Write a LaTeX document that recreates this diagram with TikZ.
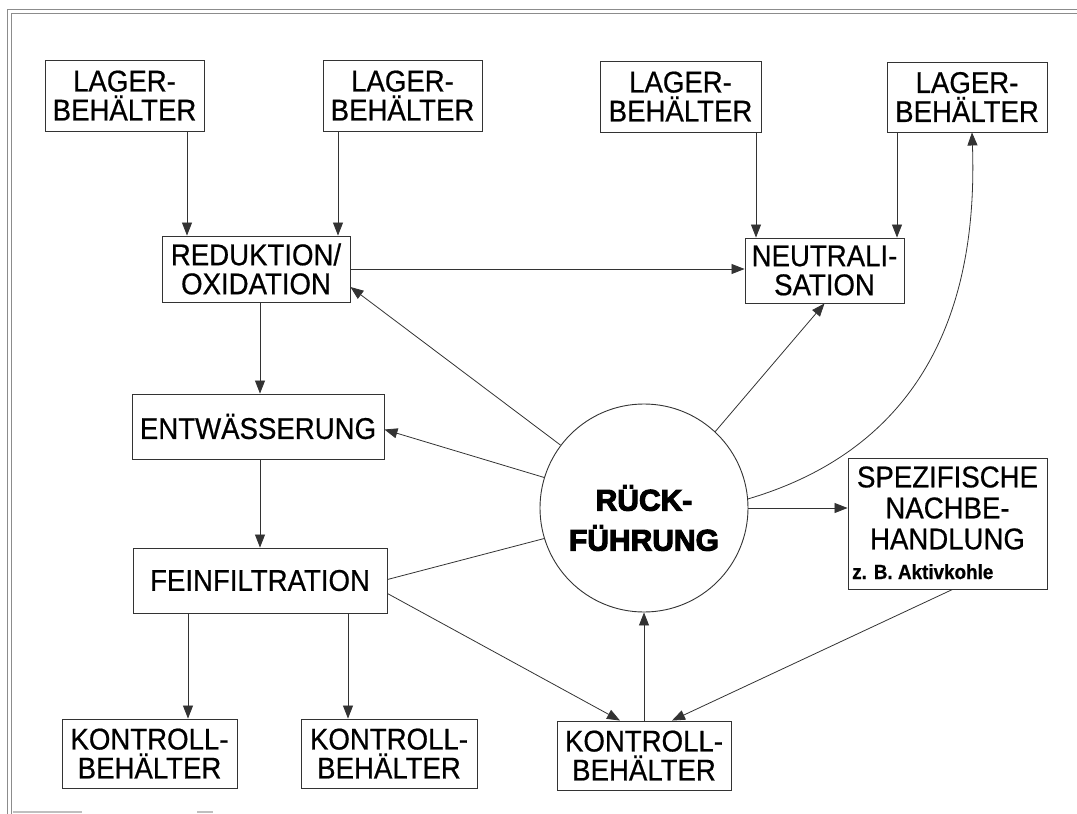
\documentclass[tikz,border=0pt]{standalone}
\usepackage{fontspec}
\setmainfont{Liberation Sans}[FakeStretch=0.92, FakeBold=0.6]
\newfontfamily\heavyfont{Liberation Sans}[BoldFeatures={FakeBold=3.5}]
\usetikzlibrary{arrows.meta}

\tikzset{
  box/.style={draw=black!80, line width=0.9pt, align=center, inner sep=0pt,
    font=\fontsize{30}{29}\selectfont, text=black},
  conn/.style={draw=black!80, line width=0.8pt},
  arr/.style={conn, -{Triangle[length=13pt,width=10pt]}},
  frame/.style={draw=black!45, line width=0.8pt},
  hub/.style={circle, draw=black!80, line width=0.9pt, minimum size=208pt,
    inner sep=0pt, align=center, text=black},
}

\begin{document}
\begin{tikzpicture}[x=1pt,y=-1pt]
\useasboundingbox (0,0) rectangle (1077,814);

% page frame
\draw[frame] (7,9) -- (1077,9);
\draw[frame] (11,13) -- (1077,13);
\draw[frame] (7,9) -- (7,814);
\draw[frame] (11,13) -- (11,814);
\draw[draw=black!25, line width=1.5pt] (13,812) -- (82,812);
\draw[draw=black!25, line width=1.5pt] (197,812) -- (213,812);

% storage tanks
\node[box, minimum width=159pt, minimum height=71pt] (lb1) at (124.5,95.5) {LAGER-\\BEHÄLTER};
\node[box, minimum width=159pt, minimum height=71pt] (lb2) at (402.5,95.5) {LAGER-\\BEHÄLTER};
\node[box, minimum width=161pt, minimum height=71pt] (lb3) at (680.5,96.5) {LAGER-\\BEHÄLTER};
\node[box, minimum width=160pt, minimum height=70pt] (lb4) at (967,97) {LAGER-\\BEHÄLTER};

% treatment stages
\node[box, minimum width=188pt, minimum height=66pt] (red) at (256,269) {REDUKTION/\\OXIDATION};
\node[box, minimum width=159pt, minimum height=65pt] (neut) at (824.5,270.5) {NEUTRALI-\\SATION};
\node[box, minimum width=252pt, minimum height=65pt] (entw) at (258,426.5) {ENTWÄSSERUNG};
\node[box, minimum width=254pt, minimum height=65pt] (fein) at (260,580.5) {FEINFILTRATION};

% control tanks
\node[box, minimum width=175pt, minimum height=69pt] (k1) at (149.5,753.5) {KONTROLL-\\BEHÄLTER};
\node[box, minimum width=176pt, minimum height=69pt] (k2) at (389,753.5) {KONTROLL-\\BEHÄLTER};
\node[box, minimum width=174pt, minimum height=69pt] (k3) at (644,755.5) {KONTROLL-\\BEHÄLTER};

% special after-treatment
\node[box, minimum width=199pt, minimum height=131pt] (spez) at (947.5,523.5) {};
\node[inner sep=0pt, align=center, font=\fontsize{30}{31}\selectfont] (speztxt) at (947.5,508) {SPEZIFISCHE\\NACHBE-\\HANDLUNG};
\node[inner sep=0pt, anchor=base west, font=\fontsize{20.5}{21}\selectfont\bfseries] (spezex) at (852,579) {z. B. Aktivkohle};

% recycling hub
\node[hub] (rf) at (644,508) {};
\node[inner sep=0pt, align=center, font=\heavyfont\bfseries\fontsize{30}{40}\selectfont] (rftxt) at (644,518) {RÜCK-\\FÜHRUNG};

% connector columns
\coordinate (c1) at (187,0);
\coordinate (c2) at (338,0);
\coordinate (c3) at (756,0);
\coordinate (c4) at (897,0);
\coordinate (c5) at (260,0);
\coordinate (c6) at (188,0);
\coordinate (c7) at (348,0);
\coordinate (c8) at (620,0);
\coordinate (c9) at (672,0);
\coordinate (c10) at (972,0);

% feeds from storage tanks
\draw[arr] (lb1.south -| c1) -- (red.north -| c1);
\draw[arr] (lb2.south -| c2) -- (red.north -| c2);
\draw[arr] (lb3.south -| c3) -- (neut.north -| c3);
\draw[arr] (lb4.south -| c4) -- (neut.north -| c4);

% main line
\draw[arr] (red.east) -- (red.east -| neut.west);
\draw[arr] (red.south -| c5) -- (entw.north -| c5);
\draw[arr] (entw.south -| c5) -- (fein.north -| c5);
\draw[arr] (fein.south -| c6) -- (k1.north -| c6);
\draw[arr] (fein.south -| c7) -- (k2.north -| c7);
\draw[arr] ([yshift=-13pt]fein.east) -- (k3.north -| c8);

% recycling paths
\draw[arr] (rf.143) -- ([yshift=-18pt]red.east);
\draw[arr] (rf.163) -- ([yshift=-3pt]entw.east);
\draw[conn] (rf.197) -- ([yshift=1pt]fein.east);
\draw[arr] (rf.47) -- (neut.south);
\draw[arr] (rf.east) -- (rf.east -| spez.west);
\draw[arr] (rf.5) .. controls (880,460) and (980,360) .. (lb4.south -| c10);
\draw[arr] (k3.north) -- (rf.south);
\draw[arr] ([xshift=5pt]spez.south) -- (k3.north -| c9);
\end{tikzpicture}
\end{document}
